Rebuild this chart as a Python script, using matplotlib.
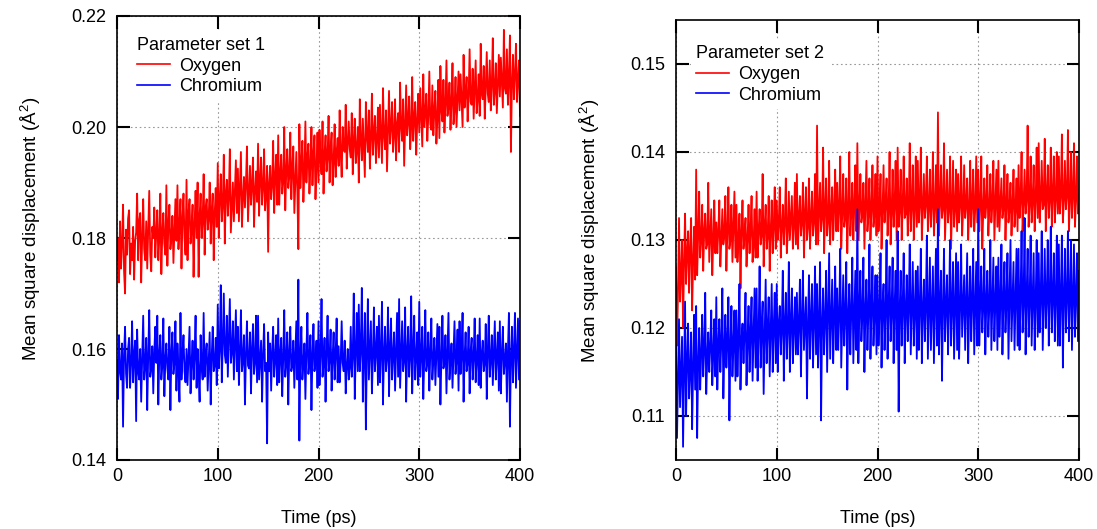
import numpy as np
import matplotlib.pyplot as plt

plt.rcParams['font.family'] = ['Liberation Sans', 'DejaVu Sans']
plt.rcParams['mathtext.fontset'] = 'custom'
plt.rcParams['mathtext.rm'] = 'Liberation Sans'

# time axis (ps), one value per ps
time_ps = np.arange(0, 401)

# MSD values, in units of 1e-4 A^2 (one row = 20 ps)
oxygen_set1 = [
    1760, 1800, 1720, 1830, 1745, 1790, 1860, 1740, 1700, 1815, 1770, 1835, 1850, 1735, 1790, 1760, 1820, 1725, 1795, 1810,
    1880, 1760, 1830, 1845, 1720, 1800, 1870, 1780, 1760, 1830, 1745, 1815, 1885, 1770, 1740, 1820, 1800, 1855, 1765, 1810,
    1850, 1760, 1800, 1880, 1735, 1810, 1845, 1790, 1770, 1895, 1750, 1825, 1860, 1780, 1800, 1840, 1755, 1815, 1870, 1795,
    1895, 1780, 1820, 1870, 1745, 1835, 1880, 1800, 1770, 1905, 1760, 1845, 1870, 1790, 1815, 1860, 1730, 1825, 1885, 1800,
    1900, 1730, 1840, 1880, 1800, 1830, 1915, 1770, 1855, 1870, 1815, 1835, 1900, 1790, 1850, 1880, 1760, 1845, 1890, 1820,
    1935, 1800, 1870, 1915, 1830, 1860, 1950, 1790, 1880, 1905, 1840, 1875, 1960, 1810, 1855, 1900, 1830, 1885, 1940, 1845,
    1925, 1830, 1890, 1955, 1820, 1870, 1910, 1855, 1900, 1965, 1830, 1880, 1930, 1860, 1895, 1945, 1820, 1885, 1920, 1865,
    1970, 1840, 1905, 1945, 1860, 1890, 1960, 1850, 1880, 1930, 1775, 1900, 1930, 1870, 1895, 1975, 1845, 1910, 1950, 1860,
    1985, 1860, 1915, 1950, 1880, 1900, 2000, 1850, 1920, 1960, 1890, 1910, 1990, 1870, 1925, 1965, 1845, 1900, 1955, 1885,
    1780, 2005, 1890, 1935, 1975, 1865, 1920, 2010, 1900, 1945, 1970, 1880, 1930, 2000, 1895, 1950, 1985, 1870, 1925, 1990,
    1900, 1995, 1940, 1915, 2010, 1880, 1950, 1985, 1920, 1945, 2020, 1900, 1960, 1990, 1895, 1935, 2005, 1910, 1955, 1980,
    1930, 2030, 1955, 1910, 2000, 1960, 1955, 2040, 1925, 1970, 2010, 1960, 1945, 2025, 1915, 1975, 2015, 1935, 1960, 2000,
    1900, 2050, 1975, 1940, 2015, 1960, 1910, 2045, 1985, 1955, 2030, 1925, 1980, 2060, 1950, 1990, 2020, 1935, 1975, 2035,
    1945, 2040, 1990, 1935, 2070, 1985, 1960, 2030, 1920, 1995, 2065, 1970, 2000, 2045, 1955, 1985, 2050, 1940, 2005, 2025,
    1955, 2080, 2000, 1975, 2050, 1930, 2005, 2075, 1985, 2010, 2055, 1960, 2000, 2090, 1975, 2015, 2045, 1950, 2010, 2060,
    1990, 2070, 2015, 1965, 2095, 2000, 2025, 2060, 1975, 2020, 2100, 2005, 1995, 2075, 1985, 2030, 2065, 1970, 2015, 2085,
    1980, 2110, 2030, 2010, 2085, 1990, 2040, 2120, 2020, 2035, 2080, 1995, 2045, 2115, 2005, 2030, 2090, 2000, 2050, 2100,
    2030, 2095, 2045, 2000, 2130, 2035, 2060, 2090, 2010, 2055, 2140, 2045, 2040, 2105, 2015, 2065, 2120, 2025, 2050, 2095,
    2020, 2150, 2060, 2050, 2110, 2015, 2070, 2135, 2060, 2045, 2120, 2030, 2075, 2160, 2040, 2065, 2115, 2025, 2080, 2130,
    2055, 2125, 2080, 2035, 2175, 2070, 2060, 2140, 2040, 2090, 2165, 1955, 2080, 2130, 2050, 2095, 2150, 2045, 2085, 2120,
    2020]

chromium_set1 = [
    1580, 1510, 1625, 1560, 1545, 1610, 1460, 1590, 1640, 1555, 1530, 1600, 1620, 1530, 1575, 1650, 1540, 1590, 1615, 1470,
    1635, 1560, 1545, 1600, 1505, 1585, 1660, 1545, 1570, 1620, 1490, 1590, 1670, 1550, 1565, 1605, 1520, 1595, 1640, 1575,
    1660, 1500, 1590, 1625, 1545, 1570, 1655, 1515, 1580, 1610, 1565, 1545, 1640, 1490, 1595, 1630, 1555, 1575, 1650, 1525,
    1610, 1565, 1505, 1665, 1545, 1590, 1625, 1560, 1540, 1600, 1535, 1585, 1640, 1520, 1575, 1615, 1545, 1590, 1660, 1530,
    1600, 1560, 1505, 1625, 1570, 1545, 1665, 1550, 1590, 1610, 1525, 1575, 1630, 1500, 1585, 1640, 1560, 1570, 1620, 1535,
    1680, 1565, 1600, 1715, 1540, 1610, 1700, 1590, 1575, 1660, 1550, 1620, 1690, 1575, 1595, 1650, 1545, 1605, 1670, 1560,
    1640, 1535, 1595, 1670, 1560, 1580, 1625, 1500, 1590, 1650, 1570, 1565, 1630, 1520, 1600, 1645, 1555, 1575, 1660, 1540,
    1660, 1545, 1580, 1615, 1505, 1590, 1645, 1560, 1575, 1430, 1630, 1560, 1610, 1525, 1595, 1640, 1550, 1580, 1625, 1535,
    1655, 1540, 1590, 1620, 1515, 1585, 1670, 1550, 1575, 1630, 1500, 1595, 1640, 1560, 1570, 1615, 1530, 1590, 1650, 1545,
    1725, 1435, 1590, 1640, 1545, 1575, 1610, 1510, 1595, 1665, 1555, 1580, 1625, 1490, 1590, 1645, 1560, 1575, 1615, 1530,
    1650, 1535, 1590, 1690, 1550, 1575, 1620, 1505, 1595, 1660, 1560, 1580, 1635, 1525, 1585, 1630, 1545, 1590, 1655, 1540,
    1605, 1540, 1575, 1650, 1575, 1560, 1615, 1520, 1570, 1600, 1545, 1565, 1640, 1550, 1590, 1700, 1510, 1595, 1665, 1560,
    1680, 1560, 1600, 1710, 1505, 1595, 1665, 1455, 1590, 1690, 1545, 1600, 1650, 1520, 1585, 1675, 1560, 1595, 1640, 1535,
    1660, 1540, 1595, 1685, 1500, 1590, 1640, 1560, 1585, 1675, 1515, 1600, 1655, 1545, 1590, 1630, 1525, 1595, 1665, 1550,
    1690, 1530, 1590, 1650, 1560, 1580, 1675, 1505, 1595, 1640, 1550, 1585, 1695, 1520, 1600, 1660, 1545, 1585, 1630, 1535,
    1685, 1550, 1590, 1640, 1510, 1585, 1670, 1560, 1575, 1630, 1525, 1595, 1655, 1545, 1580, 1620, 1535, 1590, 1645, 1550,
    1640, 1500, 1585, 1660, 1565, 1575, 1625, 1520, 1595, 1665, 1545, 1580, 1610, 1530, 1590, 1650, 1555, 1580, 1635, 1525,
    1650, 1555, 1590, 1665, 1505, 1585, 1630, 1560, 1575, 1640, 1520, 1595, 1620, 1545, 1585, 1655, 1540, 1580, 1625, 1535,
    1655, 1530, 1590, 1615, 1560, 1575, 1645, 1510, 1595, 1660, 1550, 1580, 1625, 1535, 1590, 1650, 1545, 1585, 1630, 1525,
    1650, 1520, 1590, 1640, 1555, 1580, 1610, 1505, 1595, 1665, 1460, 1585, 1640, 1540, 1595, 1665, 1530, 1590, 1655, 1545,
    1650]

oxygen_set2 = [
    1270, 1180, 1240, 1325, 1230, 1260, 1300, 1200, 1275, 1330, 1250, 1285, 1310, 1240, 1290, 1325, 1220, 1275, 1315, 1255,
    1380, 1260, 1305, 1355, 1280, 1300, 1340, 1265, 1310, 1330, 1290, 1295, 1365, 1275, 1305, 1335, 1260, 1300, 1345, 1285,
    1320, 1285, 1310, 1345, 1270, 1300, 1335, 1295, 1305, 1350, 1265, 1310, 1360, 1290, 1300, 1340, 1275, 1315, 1355, 1280,
    1340, 1275, 1300, 1330, 1245, 1310, 1345, 1290, 1305, 1325, 1270, 1300, 1340, 1285, 1310, 1350, 1275, 1295, 1335, 1280,
    1355, 1280, 1310, 1335, 1295, 1305, 1375, 1270, 1315, 1340, 1290, 1305, 1350, 1265, 1310, 1345, 1285, 1315, 1360, 1290,
    1345, 1300, 1320, 1360, 1280, 1315, 1340, 1295, 1320, 1370, 1285, 1310, 1355, 1300, 1325, 1350, 1290, 1315, 1365, 1295,
    1375, 1290, 1325, 1350, 1305, 1320, 1365, 1280, 1330, 1360, 1300, 1315, 1370, 1290, 1325, 1355, 1305, 1320, 1375, 1295,
    1430, 1295, 1330, 1365, 1310, 1325, 1405, 1285, 1335, 1370, 1305, 1320, 1390, 1295, 1330, 1360, 1300, 1335, 1380, 1310,
    1365, 1310, 1335, 1395, 1290, 1330, 1375, 1315, 1325, 1370, 1285, 1335, 1400, 1305, 1330, 1365, 1300, 1340, 1385, 1310,
    1410, 1300, 1335, 1375, 1320, 1330, 1365, 1290, 1340, 1390, 1310, 1330, 1370, 1300, 1335, 1385, 1315, 1330, 1375, 1305,
    1395, 1310, 1335, 1375, 1290, 1330, 1385, 1320, 1340, 1370, 1305, 1335, 1400, 1295, 1330, 1380, 1315, 1340, 1390, 1300,
    1405, 1315, 1335, 1380, 1300, 1340, 1395, 1325, 1330, 1370, 1305, 1335, 1410, 1310, 1340, 1385, 1300, 1335, 1395, 1315,
    1390, 1320, 1340, 1405, 1300, 1335, 1375, 1325, 1340, 1395, 1310, 1335, 1380, 1315, 1340, 1400, 1305, 1335, 1385, 1320,
    1445, 1305, 1340, 1385, 1325, 1335, 1410, 1300, 1340, 1380, 1320, 1335, 1395, 1290, 1340, 1390, 1315, 1335, 1380, 1310,
    1375, 1320, 1340, 1395, 1305, 1335, 1385, 1325, 1340, 1370, 1300, 1335, 1390, 1315, 1340, 1380, 1310, 1335, 1395, 1320,
    1380, 1310, 1340, 1395, 1290, 1335, 1370, 1325, 1340, 1385, 1305, 1335, 1375, 1320, 1340, 1390, 1300, 1340, 1380, 1315,
    1390, 1310, 1340, 1370, 1325, 1335, 1385, 1300, 1340, 1375, 1320, 1335, 1365, 1305, 1340, 1380, 1315, 1335, 1370, 1310,
    1385, 1325, 1345, 1400, 1310, 1340, 1380, 1330, 1345, 1430, 1315, 1340, 1395, 1320, 1345, 1385, 1310, 1345, 1405, 1325,
    1410, 1320, 1345, 1390, 1335, 1340, 1415, 1310, 1350, 1385, 1325, 1345, 1405, 1315, 1350, 1395, 1320, 1345, 1400, 1330,
    1395, 1330, 1350, 1420, 1320, 1345, 1390, 1335, 1350, 1425, 1310, 1345, 1400, 1325, 1350, 1410, 1315, 1345, 1395, 1330,
    1340]

chromium_set2 = [
    1180, 1075, 1140, 1210, 1110, 1150, 1190, 1065, 1145, 1230, 1100, 1160, 1205, 1120, 1150, 1195, 1085, 1155, 1215, 1130,
    1225, 1075, 1160, 1200, 1130, 1170, 1215, 1145, 1175, 1240, 1125, 1165, 1195, 1150, 1180, 1220, 1135, 1170, 1210, 1145,
    1235, 1130, 1180, 1210, 1150, 1185, 1245, 1120, 1175, 1215, 1155, 1185, 1235, 1095, 1180, 1225, 1145, 1180, 1220, 1140,
    1220, 1145, 1190, 1250, 1130, 1185, 1205, 1160, 1195, 1240, 1135, 1185, 1225, 1150, 1195, 1235, 1140, 1190, 1245, 1155,
    1245, 1140, 1195, 1270, 1155, 1200, 1230, 1125, 1190, 1255, 1160, 1200, 1235, 1145, 1195, 1250, 1150, 1200, 1240, 1160,
    1250, 1150, 1205, 1225, 1170, 1200, 1265, 1140, 1205, 1240, 1165, 1200, 1275, 1150, 1205, 1245, 1160, 1200, 1235, 1170,
    1240, 1170, 1205, 1255, 1145, 1210, 1265, 1175, 1205, 1235, 1120, 1205, 1260, 1165, 1210, 1250, 1155, 1205, 1270, 1170,
    1250, 1155, 1210, 1275, 1095, 1205, 1245, 1170, 1210, 1265, 1150, 1215, 1285, 1165, 1210, 1255, 1160, 1210, 1270, 1175,
    1245, 1175, 1215, 1290, 1155, 1210, 1260, 1180, 1215, 1275, 1130, 1215, 1250, 1170, 1220, 1280, 1160, 1215, 1265, 1175,
    1335, 1160, 1220, 1265, 1185, 1215, 1280, 1150, 1220, 1255, 1175, 1220, 1295, 1165, 1225, 1270, 1180, 1215, 1260, 1170,
    1260, 1180, 1220, 1285, 1155, 1225, 1250, 1175, 1220, 1300, 1165, 1225, 1270, 1185, 1220, 1280, 1160, 1225, 1265, 1175,
    1310, 1105, 1220, 1265, 1180, 1225, 1285, 1160, 1220, 1260, 1185, 1225, 1295, 1170, 1225, 1275, 1180, 1220, 1265, 1165,
    1270, 1175, 1225, 1290, 1160, 1220, 1255, 1185, 1225, 1305, 1165, 1225, 1280, 1175, 1225, 1270, 1160, 1225, 1290, 1180,
    1335, 1170, 1225, 1265, 1140, 1225, 1290, 1185, 1225, 1260, 1170, 1225, 1300, 1180, 1225, 1275, 1165, 1225, 1285, 1175,
    1275, 1165, 1225, 1295, 1190, 1225, 1260, 1175, 1230, 1285, 1160, 1225, 1270, 1185, 1230, 1290, 1170, 1225, 1275, 1180,
    1335, 1180, 1230, 1270, 1195, 1225, 1290, 1170, 1230, 1265, 1190, 1225, 1300, 1175, 1230, 1280, 1185, 1230, 1270, 1175,
    1280, 1190, 1230, 1295, 1170, 1230, 1275, 1195, 1230, 1285, 1165, 1230, 1300, 1185, 1230, 1275, 1175, 1230, 1290, 1180,
    1290, 1175, 1235, 1310, 1195, 1230, 1325, 1170, 1235, 1290, 1190, 1230, 1305, 1180, 1235, 1285, 1175, 1230, 1300, 1190,
    1285, 1195, 1235, 1310, 1175, 1235, 1290, 1200, 1235, 1300, 1180, 1235, 1315, 1195, 1235, 1285, 1185, 1235, 1305, 1180,
    1295, 1180, 1235, 1305, 1155, 1235, 1290, 1195, 1235, 1310, 1185, 1235, 1300, 1175, 1235, 1295, 1190, 1235, 1285, 1185,
    1265]

panels = [
    ('Parameter set 1', oxygen_set1, chromium_set1, (0.14, 0.22), [0.14, 0.16, 0.18, 0.20, 0.22], 0.985),
    ('Parameter set 2', oxygen_set2, chromium_set2, (0.105, 0.155), [0.11, 0.12, 0.13, 0.14, 0.15], 0.975),
]
boxes = [
    [117/1097, 1 - 460/529, 403/1097, 444/529],
    [676/1097, 1 - 460/529, 403/1097, 440/529],
]

fig = plt.figure(figsize=(10.97, 5.29), dpi=100)

for (title, ox, cr, ylim, yticks, leg_y), box in zip(panels, boxes):
    ax = fig.add_axes(box)
    ax.plot(time_ps, np.array(ox) / 1e4, color='#ff0000', lw=1.3, label='Oxygen')
    ax.plot(time_ps, np.array(cr) / 1e4, color='#0000ff', lw=1.3, label='Chromium')
    ax.set_xlim(0, 400)
    ax.set_ylim(*ylim)
    ax.set_xticks([0, 100, 200, 300, 400])
    ax.set_yticks(yticks)
    ax.yaxis.set_major_formatter(plt.FormatStrFormatter('%.2f'))
    ax.grid(True, color='#999999', linestyle=(0, (1.5, 2.5)), linewidth=0.8)
    ax.tick_params(direction='in', length=9, width=1.5, top=True, right=True,
                   labelsize=13, color='black')
    ax.tick_params(axis='y', pad=8)
    ax.tick_params(axis='x', pad=6)
    for s in ax.spines.values():
        s.set_linewidth(1.2)
    ax.set_xlabel('Time (ps)', fontsize=13, labelpad=18)
    ax.set_ylabel('Mean square displacement (Å$^{2}$)', fontsize=13.5, labelpad=20)
    ax.yaxis.label.set_y(0.52)
    leg = ax.legend(title=title, loc='upper left', bbox_to_anchor=(0.015, leg_y),
                    frameon=True, fontsize=13, title_fontsize=13,
                    handlelength=1.8, handletextpad=0.5, labelspacing=0.2,
                    borderpad=0.3, alignment='left')
    for h in leg.get_lines():
        h.set_linewidth(1.2)
    leg.get_frame().set_edgecolor('none')
    leg.get_frame().set_facecolor('white')
    leg.get_frame().set_alpha(1)

fig.savefig('out.png', dpi=100)
